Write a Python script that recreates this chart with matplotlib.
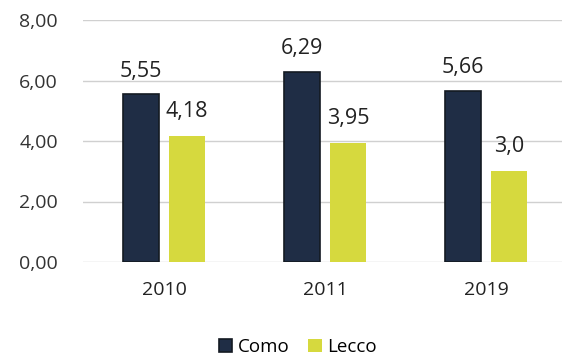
import numpy as np
import matplotlib.pyplot as plt

anni = ['2010', '2011', '2019']
como = [5.55, 6.29, 5.66]
lecco = [4.18, 3.95, 3.0]
etichette_como = ['5,55', '6,29', '5,66']
etichette_lecco = ['4,18', '3,95', '3,0']
tick_y = [0, 2, 4, 6, 8]
tick_y_lab = ['0,00', '2,00', '4,00', '6,00', '8,00']

plt.rcParams['font.family'] = ['Open Sans', 'DejaVu Sans']

W, H = 562, 358
fig = plt.figure(figsize=(W / 100, H / 100), dpi=100)
# area del grafico in pixel: x 83..562, y 20..262 (dall'alto)
ax = fig.add_axes([83 / W, (H - 262) / H, (562 - 83) / W, (262 - 20) / H])

x = np.arange(len(anni))
larg = 0.224
off = 0.143
b1 = ax.bar(x - off, como, larg, color='#1f2d45', edgecolor='#141a22', linewidth=1.2, label='Como', zorder=3)
b2 = ax.bar(x + off, lecco, larg, color='#d6d93e', edgecolor='#d6d93e', linewidth=0, label='Lecco', zorder=3)

for i in range(len(anni)):
    ax.annotate(etichette_como[i], (x[i] - off, como[i]), xytext=(0, 9), textcoords='offset points',
                ha='center', va='bottom', fontsize=15.5, color='#222222')
    ax.annotate(etichette_lecco[i], (x[i] + off, lecco[i]), xytext=(0, 10), textcoords='offset points',
                ha='center', va='bottom', fontsize=15.5, color='#222222')

ax.set_xlim(-0.503, 2.47)
ax.set_ylim(0, 8)
ax.set_yticks(tick_y)
ax.set_yticklabels(tick_y_lab)
ax.set_xticks(x)
ax.set_xticklabels(anni)
ax.tick_params(axis='y', length=0, pad=18, labelsize=14, labelcolor='#333333')
ax.tick_params(axis='x', length=0, pad=14, labelsize=14, labelcolor='#222222')
ax.grid(axis='y', color='#d0d0d0', linewidth=1, zorder=0)
for s in ax.spines.values():
    s.set_visible(False)

fig.legend(handles=[b1, b2], loc='center', bbox_to_anchor=(298 / W, 1 - 347 / H), ncol=2,
           frameon=False, fontsize=13.5, handlelength=0.7, handleheight=0.7, handletextpad=0.3,
           columnspacing=1.0)

fig.savefig('out.png', dpi=100)
